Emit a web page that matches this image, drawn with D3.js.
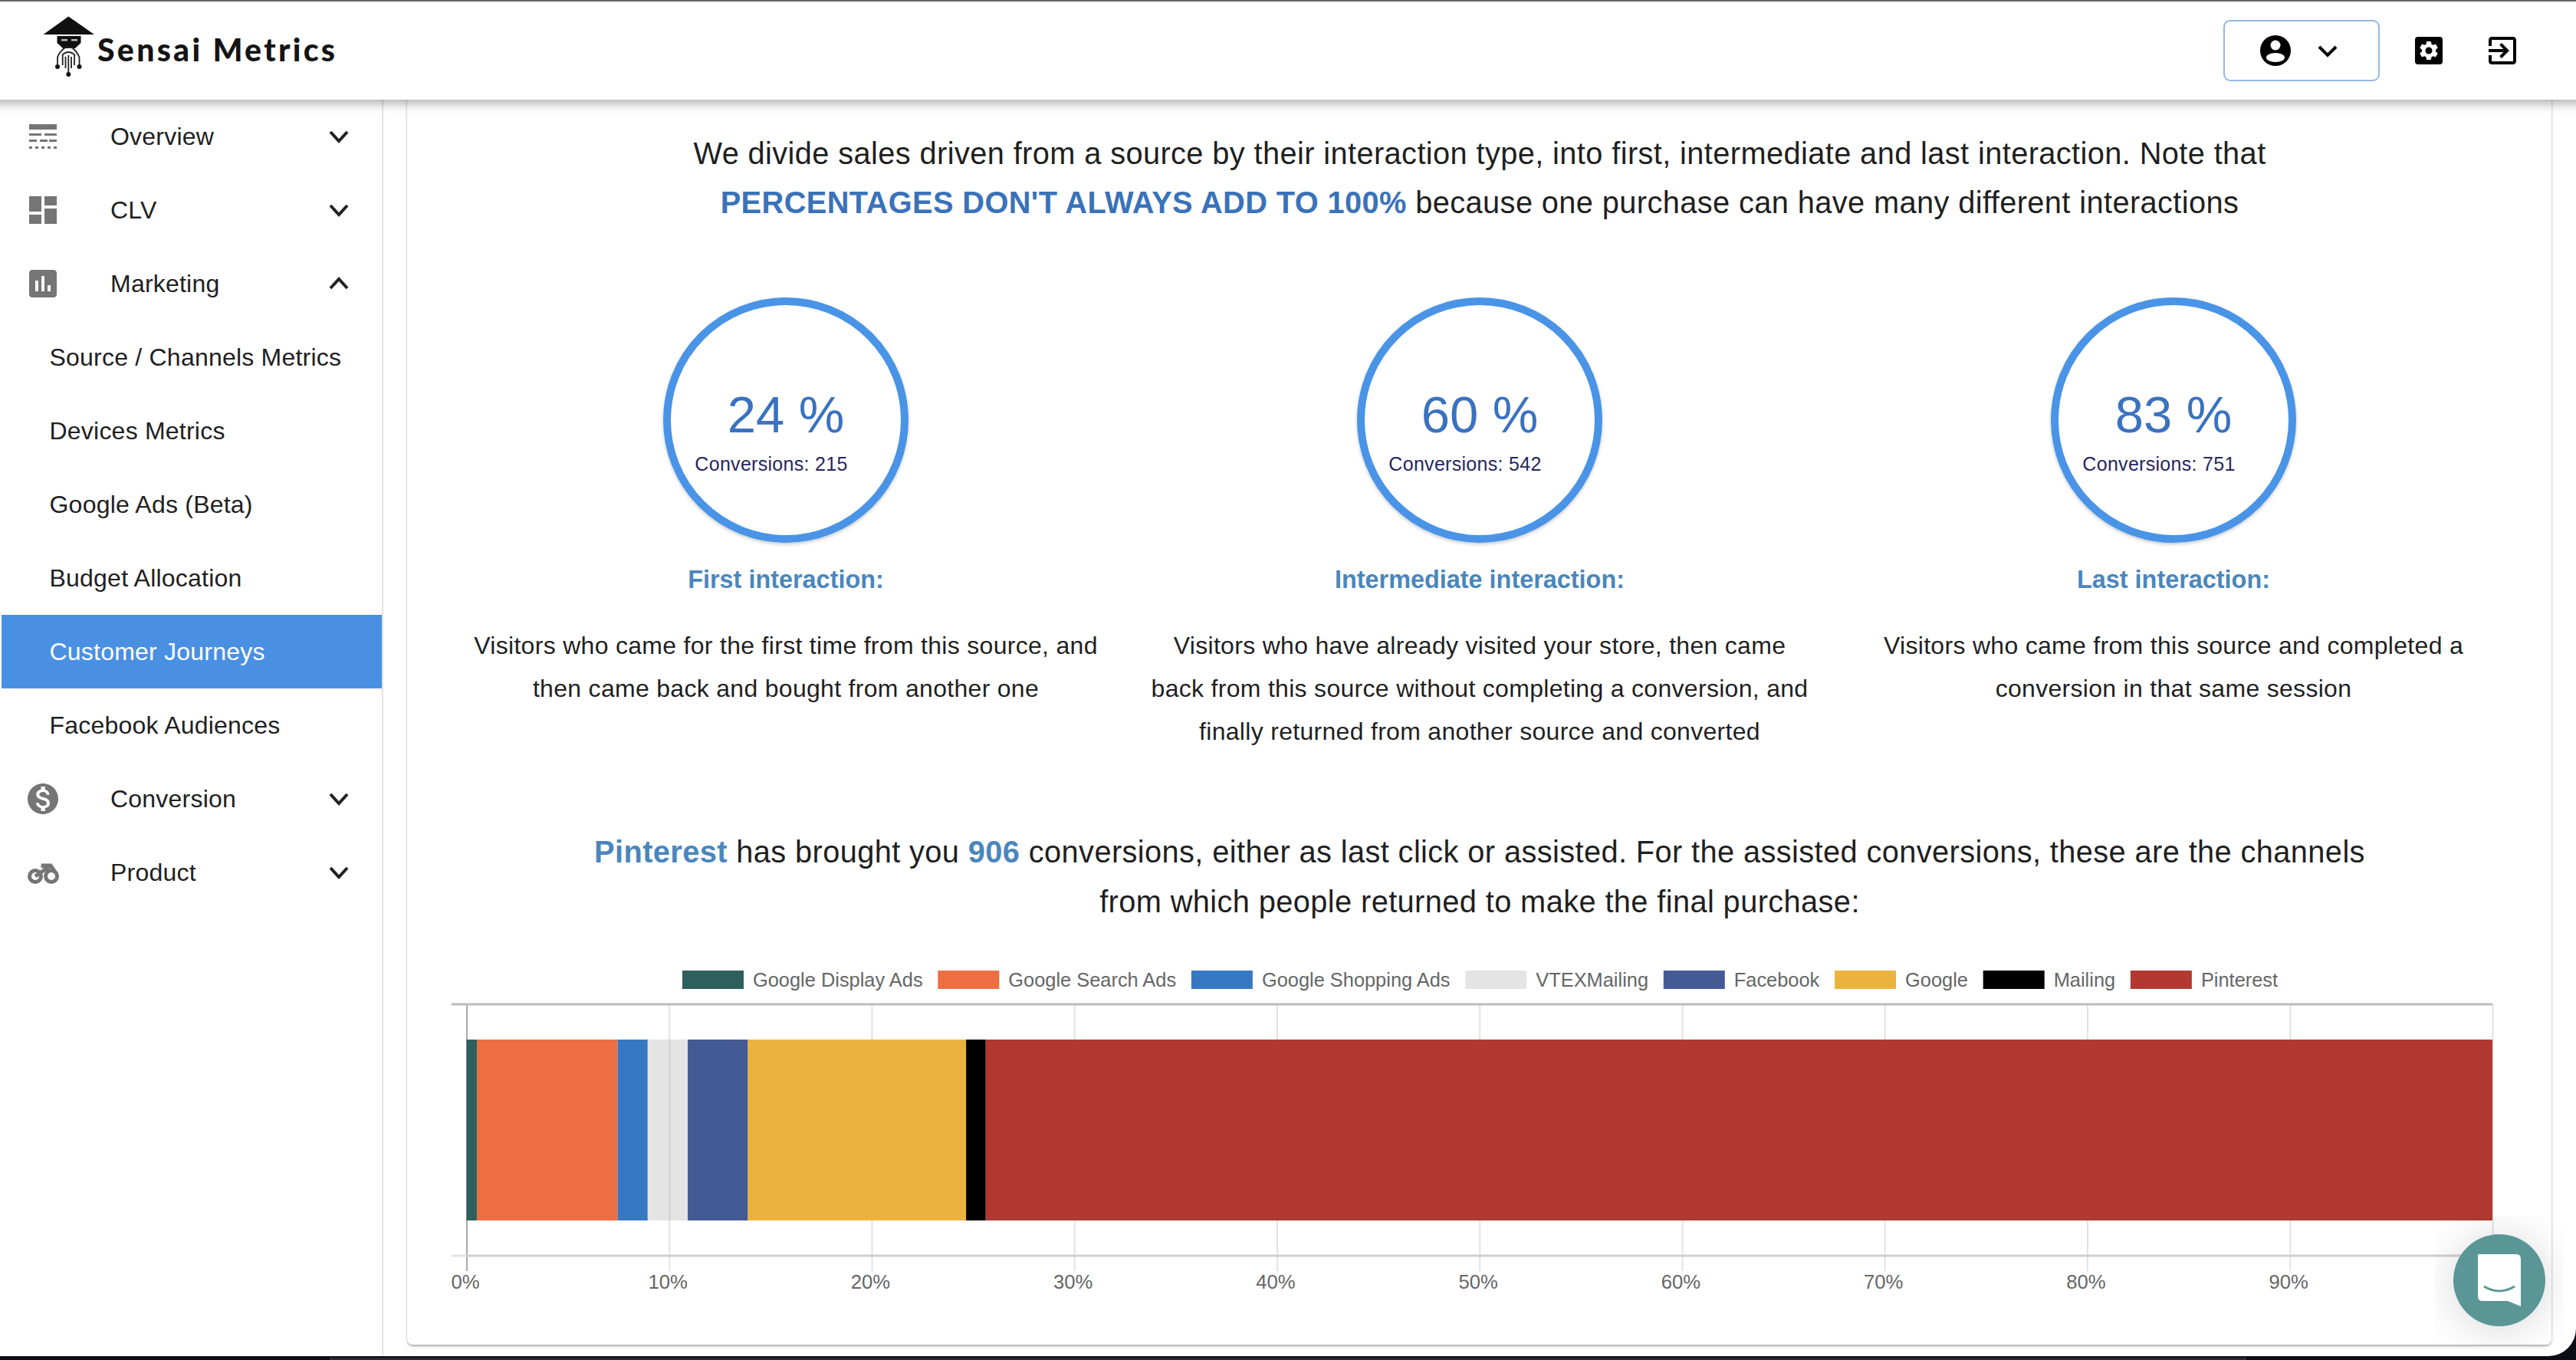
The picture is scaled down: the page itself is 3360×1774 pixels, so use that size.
<!DOCTYPE html>
<html>
<head>
<meta charset="utf-8">
<title>Sensai Metrics</title>
<script src="https://cdn.jsdelivr.net/npm/d3@7"></script>
<style>
	html, body { margin: 0; padding: 0; background: #fff; }
	svg { display: block; }
	text { font-family: "Liberation Sans", Arial, sans-serif; }
</style>
</head>
<body>
<div id="page"></div>
<script>
/* customer journeys page */

// chart data
var channels = ["Google Display Ads", "Google Search Ads", "Google Shopping Ads", "VTEXMailing", "Facebook", "Google", "Mailing", "Pinterest"];
var channelShares = [0.51, 6.95, 1.48, 1.98, 2.97, 10.77, 0.97, 74.37];
var channelColors = ["#2d5f5d", "#ed6f41", "#3778c2", "rgba(180,180,180,0.36)", "#445a94", "#ebb33d", "#000000", "#b23931"];
var xTicks = [0, 10, 20, 30, 40, 50, 60, 70, 80, 90, 100];

// interaction circles
var kpiPercents = [24, 60, 83];
var kpiConversions = [215, 542, 751];
var kpiTitles = ["First interaction:", "Intermediate interaction:", "Last interaction:"];
var kpiNotes = [
	["Visitors who came for the first time from this source, and", "then came back and bought from another one"],
	["Visitors who have already visited your store, then came", "back from this source without completing a conversion, and", "finally returned from another source and converted"],
	["Visitors who came from this source and completed a", "conversion in that same session"]
];

// sidebar
var menuItems = ["Overview", "CLV", "Marketing", "Source / Channels Metrics", "Devices Metrics", "Google Ads (Beta)", "Budget Allocation", "Customer Journeys", "Facebook Audiences", "Conversion", "Product"];
var subItems = ["Source / Channels Metrics", "Devices Metrics", "Google Ads (Beta)", "Budget Allocation", "Customer Journeys", "Facebook Audiences"];
var activeItem = "Customer Journeys";

var W = 3360, H = 1774;
var svg = d3.select("#page").append("svg").attr("width", W).attr("height", H);

var defs = svg.append("defs");
function addShadow(id, dy, blur, op){
	defs.append("filter").attr("id", id)
		.attr("x", "-20%").attr("y", "-20%").attr("width", "140%").attr("height", "140%")
		.append("feDropShadow")
		.attr("dx", 0).attr("dy", dy).attr("stdDeviation", blur)
		.attr("flood-color", "#000").attr("flood-opacity", op);
}
addShadow("headerShadow", 5, 7, 0.32);
addShadow("cardShadow", 2, 1.5, 0.35);
addShadow("chatShadow", 4, 28, 0.16);
addShadow("circleShadow", 2, 2, 0.22);
defs.append("filter").attr("id", "softBlur").attr("x", "-10%").attr("y", "-300%").attr("width", "120%").attr("height", "700%")
	.append("feGaussianBlur").attr("stdDeviation", 34);
defs.append("clipPath").attr("id", "windowClip").append("rect")
	.attr("x", -40).attr("y", -40).attr("width", W + 40).attr("height", 1809).attr("rx", 36);

// window frame
svg.append("rect").attr("width", W).attr("height", H).attr("fill", "#0b0d12");
svg.append("rect").attr("x", 430).attr("y", 1771).attr("width", 2500).attr("height", 3).attr("fill", "#2b2a31");
svg.append("rect").attr("x", -40).attr("y", -40).attr("width", W + 40).attr("height", 1809).attr("rx", 36).attr("fill", "#ffffff");

// main card
svg.append("rect").attr("x", 531).attr("y", 60).attr("width", 2797).attr("height", 1694).attr("rx", 8)
	.attr("fill", "#fff").attr("filter", "url(#cardShadow)");

// sidebar
var sidebar = svg.append("g");
sidebar.append("line").attr("x1", 499).attr("x2", 499).attr("y1", 130).attr("y2", 1769)
	.attr("stroke", "#e2e2e2").attr("stroke-width", 2);
var menuY = d3.scalePoint().domain(menuItems).range([178, 1138]);
sidebar.append("rect").attr("x", 2).attr("y", menuY(activeItem) - 48).attr("width", 496).attr("height", 96).attr("fill", "#4a90e2");
sidebar.selectAll("text").data(menuItems).enter().append("text")
	.attr("x", d => subItems.includes(d) ? 64.5 : 144)
	.attr("y", d => menuY(d) + 11)
	.attr("font-size", 32)
	.attr("letter-spacing", 0.22)
	.attr("fill", d => d === activeItem ? "#fff" : "#212121")
	.text(d => d);

var chevrons = ["Overview", "CLV", "Marketing", "Conversion", "Product"];
sidebar.selectAll("path.chev").data(chevrons).enter().append("path")
	.attr("class", "chev")
	.attr("d", d => {
		var y = menuY(d), s = d === "Marketing" ? -1 : 1;
		return `M431,${y - 6 * s} L442,${y + 6 * s} L453,${y - 6 * s}`;
	})
	.attr("fill", "none").attr("stroke", "#212121").attr("stroke-width", 4);

var iconGray = "#757575";
// overview icon
[[162, 7, [[38, 36]]], [174, 3, [[38, 16], [58, 16]]], [182, 3, [[38, 10], [52, 10], [64, 10]]], [191, 3, [[38, 4], [46, 4], [54, 4], [62, 4], [70, 4]]]].forEach(r => {
	r[2].forEach(b => sidebar.append("rect").attr("x", b[0]).attr("y", r[0]).attr("width", b[1]).attr("height", r[1]).attr("fill", iconGray));
});
function addIcon(path, x, y, s, fill, parent){
	return (parent || sidebar).append("path").attr("d", path)
		.attr("transform", `translate(${x},${y}) scale(${s})`)
		.attr("fill", fill).attr("fill-rule", "evenodd");
}
addIcon("M3 13h8V3H3v10zm0 8h8v-6H3v6zm10 0h8V11h-8v10zm0-18v6h8V3h-8z", 32, 250, 2, iconGray);
addIcon("M19 3H5c-1.1 0-2 .9-2 2v14c0 1.1.9 2 2 2h14c1.1 0 2-.9 2-2V5c0-1.1-.9-2-2-2zM9 17H7v-7h2v7zm4 0h-2V7h2v10zm4 0h-2v-4h2v4z", 32, 346, 2, iconGray);
addIcon("M12 2C6.48 2 2 6.48 2 12s4.48 10 10 10 10-4.48 10-10S17.52 2 12 2zm1.41 16.09V20h-2.67v-1.93c-1.71-.36-3.16-1.46-3.27-3.4h1.96c.1 1.05.82 1.87 2.65 1.87 1.96 0 2.4-.98 2.4-1.59 0-.83-.44-1.61-2.67-2.14-2.48-.6-4.18-1.62-4.18-3.67 0-1.72 1.39-2.84 3.11-3.21V4h2.67v1.95c1.86.45 2.79 1.86 2.85 3.39H14.3c-.05-1.11-.64-1.87-2.22-1.87-1.5 0-2.4.68-2.4 1.64 0 .84.65 1.39 2.67 1.91s4.18 1.39 4.18 3.91c-.01 1.83-1.38 2.83-3.12 3.16z", 32, 1018, 2, iconGray);
// bike icon
var bike = sidebar.append("g").attr("fill", "none").attr("stroke", iconGray).attr("stroke-width", 5);
bike.append("circle").attr("cx", 46).attr("cy", 1143).attr("r", 7.5);
bike.append("circle").attr("cx", 67).attr("cy", 1143).attr("r", 7.5);
bike.append("path").attr("d", "M46,1143 L62,1132 L54,1129 L66,1129 L72,1138");

// main copy
var copy = svg.append("g").attr("text-anchor", "middle");
var bodyFont = {size: 39.8, ls: 0.38};
function copyLine(y, parts){
	var t = copy.append("text").attr("x", 1930).attr("y", y)
		.attr("font-size", bodyFont.size).attr("letter-spacing", bodyFont.ls).attr("fill", "#1f1f1f");
	parts.forEach(p => {
		var s = t.append("tspan").text(p.t);
		if(p.b){ s.attr("font-weight", "bold").attr("fill", p.c); }
	});
}
copyLine(214, [{t: "We divide sales driven from a source by their interaction type, into first, intermediate and last interaction. Note that"}]);
copyLine(278, [{t: "PERCENTAGES DON'T ALWAYS ADD TO 100%", b: true, c: "#3a72b9"}, {t: " because one purchase can have many different interactions"}]);
copyLine(1125, [{t: "Pinterest", b: true, c: "#4a86bd"}, {t: " has brought you "}, {t: "906", b: true, c: "#4a86bd"}, {t: " conversions, either as last click or assisted. For the assisted conversions, these are the channels"}]);
copyLine(1190, [{t: "from which people returned to make the final purchase:"}]);

// interaction circles
var kpiX = d3.scalePoint().domain(kpiTitles).range([1025, 2835]);
var kpi = svg.selectAll("g.kpi").data(kpiTitles).enter().append("g").attr("class", "kpi")
	.attr("transform", d => `translate(${kpiX(d)},0)`);
kpi.append("circle").attr("cy", 548).attr("r", 155)
	.attr("fill", "#fff").attr("stroke", "#4a94e6").attr("stroke-width", 10).attr("filter", "url(#circleShadow)");
kpi.append("text").attr("text-anchor", "middle").attr("y", 564).attr("font-size", 67).attr("fill", "#3a72c0")
	.text((d, i) => kpiPercents[i] + " %");
kpi.append("text").attr("text-anchor", "middle").attr("x", -19).attr("y", 614).attr("font-size", 25).attr("letter-spacing", 0.3).attr("fill", "#26265e")
	.text((d, i) => "Conversions: " + kpiConversions[i]);
kpi.append("text").attr("text-anchor", "middle").attr("y", 767).attr("font-size", 32.4).attr("font-weight", "bold").attr("fill", "#4a86bd")
	.text(d => d);
kpi.each(function(d, i){
	d3.select(this).selectAll("text.note").data(kpiNotes[i]).enter().append("text")
		.attr("class", "note").attr("text-anchor", "middle")
		.attr("y", (l, j) => 853 + j * 56)
		.attr("font-size", 32).attr("letter-spacing", 0.3).attr("fill", "#1f1f1f")
		.text(l => l);
});

// stacked bar
var x = d3.scaleLinear().domain([0, 100]).range([608.5, 3251]);
var y = d3.scaleBand().domain(["share"]).range([1310, 1638]).paddingInner(0).paddingOuter(0.195);

var row = {};
channels.forEach((c, i) => row[c] = channelShares[i]);
var series = d3.stack().keys(channels)([row]);

var chart = svg.append("g");
var axisTop = y.range()[0], axisBottom = y.range()[1];

// legend, laid out like the chart lib does it
var legend = chart.append("g");
var legendX = 890;
channels.forEach((c, i) => {
	legend.append("rect").attr("x", legendX).attr("y", 1266).attr("width", 80).attr("height", 24)
		.attr("fill", channelColors[i]);
	var t = legend.append("text").attr("x", legendX + 92).attr("y", 1287).attr("font-size", 25.4).attr("fill", "#666").text(c);
	legendX += 80 + 12.85 + t.node().getComputedTextLength() + 18.9;
});

var xAxis = d3.axisBottom(x).tickValues(xTicks).tickFormat(d => d + "%").tickSizeInner(axisBottom + 20 - axisTop).tickSizeOuter(0).tickPadding(5);
var axisG = chart.append("g").attr("transform", `translate(0,${axisTop})`).call(xAxis);
axisG.select(".domain").remove();
axisG.selectAll(".tick line").attr("stroke", d => d === 0 ? "#aaaaaa" : "#e2e2e2").attr("stroke-width", 2);
axisG.selectAll(".tick text").attr("font-size", 25.7).attr("fill", "#666").attr("font-family", null).attr("dx", -2);

chart.append("line").attr("x1", 588.7).attr("x2", x(100)).attr("y1", axisTop).attr("y2", axisTop).attr("stroke", "#bcbcbc").attr("stroke-width", 3);
chart.append("line").attr("x1", 588.7).attr("x2", x(0)).attr("y1", axisBottom).attr("y2", axisBottom).attr("stroke", "#e4e4e4").attr("stroke-width", 3);
chart.append("line").attr("x1", x(0)).attr("x2", x(100)).attr("y1", axisBottom).attr("y2", axisBottom).attr("stroke", "#cfcfcf").attr("stroke-width", 3);

chart.selectAll("rect.seg").data(series).enter().append("rect")
	.attr("class", "seg")
	.attr("x", d => x(d[0][0]))
	.attr("width", d => x(d[0][1]) - x(d[0][0]))
	.attr("y", y("share"))
	.attr("height", y.bandwidth())
	.attr("fill", (d, i) => channelColors[i]);

// soft shade rising from the bottom of the window
svg.append("g").attr("clip-path", "url(#windowClip)")
	.append("rect").attr("x", 480).attr("y", 1780).attr("width", 2500).attr("height", 50)
	.attr("fill", "#000").attr("opacity", 0.22).attr("filter", "url(#softBlur)");

// header
var header = svg.append("g");
header.append("rect").attr("x", -20).attr("y", 0).attr("width", W + 40).attr("height", 130).attr("fill", "#fff").attr("filter", "url(#headerShadow)");
header.append("rect").attr("width", W).attr("height", 2).attr("fill", "#666");

// logo
var logo = header.append("g").attr("fill", "#111");
logo.append("path").attr("d", "M56.5,45 L89.3,21.5 L123,45 Z");
logo.append("path").attr("d", "M74.5,47 H105.5 V56 L98,63 H82 L74.5,56 Z");
logo.append("rect").attr("x", 80).attr("y", 51).attr("width", 8).attr("height", 2.5).attr("fill", "#bbb");
logo.append("rect").attr("x", 93).attr("y", 51).attr("width", 8).attr("height", 2.5).attr("fill", "#bbb");
logo.append("path").attr("d", "M75,86 V75 Q77,68 85,62 H94 Q101,68 103.5,75 V86 M81,72 Q89,64 98,72 M81.7,72 V85 M85.5,74 V89 M89.3,72 V96 M93,74 V89 M97,72 V85")
	.attr("fill", "none").attr("stroke", "#222").attr("stroke-width", 1.8);
[[75, 87], [103.5, 87], [89.3, 97]].forEach(p => logo.append("circle").attr("cx", p[0]).attr("cy", p[1]).attr("r", 3));
header.append("text").attr("x", 127).attr("y", 80).attr("style", "font-family:Lato").attr("font-weight", "900")
	.attr("font-size", 41).attr("letter-spacing", 3.3).attr("fill", "#141414").text("Sensai Metrics");

// top right controls
header.append("rect").attr("x", 2901).attr("y", 27).attr("width", 202).attr("height", 78).attr("rx", 8)
	.attr("fill", "#fff").attr("stroke", "#94b8e4").attr("stroke-width", 2);
header.append("circle").attr("cx", 2968).attr("cy", 66).attr("r", 20).attr("fill", "#000");
header.append("circle").attr("cx", 2968).attr("cy", 59).attr("r", 6.5).attr("fill", "#fff");
header.append("ellipse").attr("cx", 2968).attr("cy", 75).attr("rx", 12).attr("ry", 6).attr("fill", "#fff");
header.append("path").attr("d", "M3025,61 L3036,72 L3047,61").attr("fill", "none").attr("stroke", "#000").attr("stroke-width", 4);
header.append("rect").attr("x", 3150).attr("y", 48).attr("width", 36).attr("height", 36).attr("rx", 4).attr("fill", "#000");
addIcon("M19.14 12.94c.04-.3.06-.61.06-.94 0-.32-.02-.64-.07-.94l2.03-1.58c.18-.14.23-.41.12-.61l-1.92-3.32c-.12-.22-.37-.29-.59-.22l-2.39.96c-.5-.38-1.03-.7-1.62-.94l-.36-2.54c-.04-.24-.24-.41-.48-.41h-3.84c-.24 0-.43.17-.47.41l-.36 2.54c-.59.24-1.13.57-1.62.94l-2.39-.96c-.22-.08-.47 0-.59.22L2.74 8.87c-.12.21-.08.47.12.61l2.03 1.58c-.05.3-.09.63-.09.94s.02.64.07.94l-2.03 1.58c-.18.14-.23.41-.12.61l1.92 3.32c.12.22.37.29.59.22l2.39-.96c.5.38 1.03.7 1.62.94l.36 2.54c.05.24.24.41.48.41h3.84c.24 0 .44-.17.47-.41l.36-2.54c.59-.24 1.13-.56 1.62-.94l2.39.96c.22.08.47 0 .59-.22l1.92-3.32c.12-.22.07-.47-.12-.61l-2.01-1.58zM12 15.6c-1.98 0-3.6-1.62-3.6-3.6s1.62-3.6 3.6-3.6 3.6 1.62 3.6 3.6-1.62 3.6-3.6 3.6z", 3153, 51, 1.25, "#fff", header);
addIcon("M10.09 15.59L11.5 17l5-5-5-5-1.41 1.41L12.67 11H3v2h9.67l-2.58 2.59zM19 3H5c-1.11 0-2 .9-2 2v4h2V5h14v14H5v-4H3v4c0 1.1.89 2 2 2h14c1.1 0 2-.9 2-2V5c0-1.1-.9-2-2-2z", 3240, 42, 2, "#000", header);

// chat bubble
var chat = svg.append("g").attr("transform", "translate(3260,1670)");
chat.append("circle").attr("r", 60).attr("fill", "#5a9696").attr("filter", "url(#chatShadow)");
chat.append("path").attr("d", "M-28,-34 Q-28,-34 -22,-34 H22 Q28,-34 28,-28 V34 L11,27 H-22 Q-28,27 -28,21 Z").attr("fill", "#fff");
chat.append("path").attr("d", "M-20,8 Q0,20 20,8").attr("fill", "none").attr("stroke", "#5a9696").attr("stroke-width", 3);
</script>
</body>
</html>
